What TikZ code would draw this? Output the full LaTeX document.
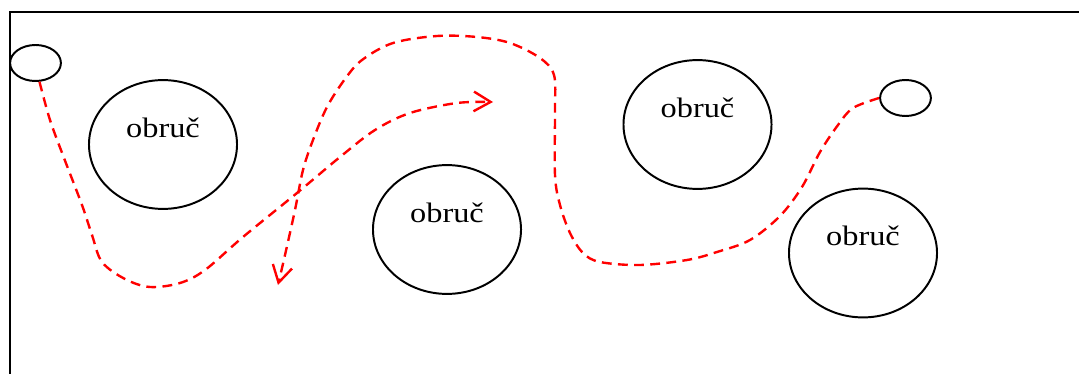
\documentclass[tikz,border=0pt]{standalone}
\usepackage{fontspec}
\setmainfont{Liberation Serif}
\usetikzlibrary{arrows.meta,shapes.geometric}
\definecolor{routered}{HTML}{FF0000}

\begin{document}
\begin{tikzpicture}[
        x=0.025cm,y=-0.025cm,
        hoop/.style={draw,ellipse,line width=1.4pt,
                     minimum width=3.7cm,minimum height=3.22cm,
                     label={[hooplabel]center:obruč}},
        hooplabel/.style={yshift=.42cm,inner sep=0pt,xscale=1.15,transform shape,
                          font=\fontsize{20}{24}\selectfont},
        spot/.style={draw,ellipse,line width=1.4pt,
                     minimum width=1.27cm,minimum height=.9cm},
        route/.style={routered,line width=1.7pt,dash pattern=on 7pt off 4.5pt,
                      -{Straight Barb[length=12pt,width=14pt]}}
      ]
        \useasboundingbox (0,0) rectangle (1079,374);
        \draw[line width=1.8pt] (1085,12) -| (10,380);

        \node[spot] (start) at (35.5,63) {};
        \node[spot] (finish) at (905.5,98) {};
        \node[hoop] (hoopa) at (163,144.5) {};
        \node[hoop] (hoopb) at (447,229.5) {};
        \node[hoop] (hoopc) at (697.5,124.5) {};
        \node[hoop] (hoopd) at (863,253) {};

        \coordinate (enda) at (493,102);
        \coordinate (endb) at (278,285);

        \draw[route] plot[smooth,tension=.55] coordinates {(start.-78) (50,120)
          (64,158) (82,205) (92,235) (102,262) (125,279) (150,287) (180,283)
          (205,270) (243,237) (297,193) (340,157) (375,130) (410,113) (457,103)
          (enda)};
        \draw[route] plot[smooth,tension=.55] coordinates {(finish.west) (853,108)
          (838,125) (820,152) (802,187) (780,216) (750,240) (717,252) (687,260)
          (640,265) (600,262) (583,253) (570,233) (560,205) (555,175) (555,110)
          (554,75) (540,58) (510,43) (477,37) (437,36) (393,43) (362,60) (345,79)
          (327,107) (313,140) (303,170) (295,210) (285,255) (endb)};
      \end{tikzpicture}
\end{document}
